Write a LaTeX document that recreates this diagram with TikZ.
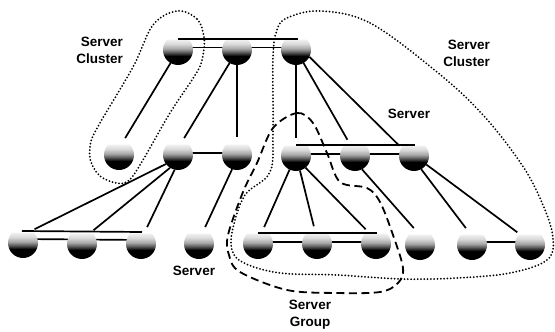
\documentclass[tikz,border=0pt]{standalone}
\usepackage{fontspec}
\setmainfont{Liberation Sans}
\usetikzlibrary{calc}
\pgfdeclarelayer{paper}
\pgfdeclarelayer{under}
\pgfsetlayers{paper,under,main}
\pgfdeclareverticalshading{ball}{100bp}{color(0bp)=(black); color(40bp)=(black); color(46bp)=(black!65); color(52bp)=(black!35); color(60bp)=(black!15); color(67bp)=(black!6); color(69bp)=(white); color(100bp)=(white)}
\tikzset{
  srv/.style={circle,minimum size=30pt,inner sep=0pt,outer sep=3pt,shading=ball},
  link/.style={line width=1.7pt,shorten <=-3pt},
  topbar/.style={line width=1.7pt},
  lowbar/.style={line width=1.7pt},
  clus/.style={line width=2pt,line cap=round,dash pattern=on 0pt off 3.3pt},
  grp/.style={line width=1.8pt,dash pattern=on 8pt off 4.5pt},
  lab/.style={font=\fontsize{13.5}{17}\selectfont\bfseries,inner sep=0pt}
}
\begin{document}
\begin{tikzpicture}[x=1pt,y=-1pt]
\begin{pgfonlayer}{paper}
\fill[white] (0,0) rectangle (555,332);
\end{pgfonlayer}
\useasboundingbox (0,0) rectangle (555,332);
% servers
\node[srv] (t1) at (178,50) {};
\node[srv] (t2) at (237,50) {};
\node[srv] (t3) at (296,50) {};
\node[srv] (m1) at (119,155) {};
\node[srv] (m2) at (178,155) {};
\node[srv] (m3) at (237,155) {};
\node[srv] (m4) at (296,156) {};
\node[srv] (m5) at (355,156) {};
\node[srv] (m6) at (414,156) {};
\node[srv] (b1) at (23,243) {};
\node[srv] (b2) at (82,244) {};
\node[srv] (b3) at (141,244) {};
\node[srv] (b4) at (199,244) {};
\node[srv] (b5) at (258,244) {};
\node[srv] (b6) at (317,244) {};
\node[srv] (b7) at (376,244) {};
\node[srv] (b8) at (420,245) {};
\node[srv] (b9) at (472,245) {};
\node[srv] (b10) at (530,245) {};
% bars passing behind the servers
\begin{pgfonlayer}{under}
\draw[lowbar] ([yshift=2.5pt]t1.center) -- ([yshift=2.5pt]t3.center);
\draw[lowbar] ([yshift=2pt]m2.center) -- ([yshift=2pt]m3.center);
\draw[lowbar] ([yshift=2pt]m4.center) -- ([yshift=2pt]m6.center);
\draw[lowbar] ([yshift=4pt]b1.center) -- ([yshift=4pt]b3.center);
\draw[lowbar] ([yshift=2pt]b5.center) -- ([yshift=2pt]b7.center);
\draw[lowbar] ([yshift=3pt]b9.center) -- ([yshift=3pt]b10.center);
\end{pgfonlayer}
% bars across the tops
\draw[topbar] ([yshift=11.3pt]t1.center) -- ([xshift=2pt,yshift=11.3pt]t3.center);
\draw[topbar] ([yshift=11pt]m4.center) -- ([xshift=1pt,yshift=11pt]m6.center);
\draw[topbar] ([xshift=-1pt,yshift=12pt]b1.center) -- ([xshift=1pt,yshift=12pt]b3.center);
\draw[topbar] ([yshift=11pt]b5.center) -- ([xshift=1pt,yshift=11pt]b7.center);
% links
\draw[link] (t1.240) -- (m1.70);
\draw[link] (t2.240) -- (m2.70);
\draw[link] (t2.270) -- (m3.90);
\draw[link] (t3.270) -- (m4.90);
\draw[link] (t3.300) -- (m5.115);
\draw[link] (t3.330) -- (m6.145);
\draw[link] (m2.215) -- (b1.50);
\draw[link] (m2.235) -- (b2.50);
\draw[link] (m2.255) -- (b3.70);
\draw[link] (m3.250) -- (b4.70);
\draw[link] (m4.245) -- (b5.70);
\draw[link] (m4.285) -- (b6.100);
\draw[link] (m4.310) -- (b7.125);
\draw[link] (m5.300) -- (b8.110);
\draw[link] (m6.300) -- (b9.110);
\draw[link] (m6.325) -- (b10.135);
% server clusters
\draw[clus] plot[smooth cycle,tension=0.6] coordinates {(177,11) (197,19) (204,37) (203,55) (197,72) (170,113) (140,165) (128,181) (116,183) (100,176) (91,162) (90,148) (96,130) (133,67) (153,25)};
\draw[clus] plot[smooth cycle,tension=0.6] coordinates {(320,11) (370,23) (437,72) (483,115) (522,165) (543,205) (553,238) (547,260) (510,273) (457,278) (403,279) (337,275) (280,273) (244,263) (232,250) (233,228) (245,195) (270,172) (273,130) (273,57) (277,30) (287,18)};
% server group
\draw[grp] plot[smooth cycle,tension=0.55] coordinates {(273,128) (297,113) (313,123) (327,153) (340,182) (367,188) (380,202) (393,235) (403,268) (398,283) (380,292) (337,293) (287,290) (240,272) (229,255) (228,235) (243,192) (257,163)};
% labels
\node[lab,align=right,anchor=east] (l1) at (123,50.5) {Server\\Cluster};
\node[lab,align=right,anchor=east] (l2) at (490,53) {Server\\Cluster};
\node[lab] (l3) at (409,114) {Server};
\node[lab] (l4) at (194,271) {Server};
\node[lab,align=center] (l5) at (310,314.5) {Server\\Group};
\end{tikzpicture}
\end{document}
